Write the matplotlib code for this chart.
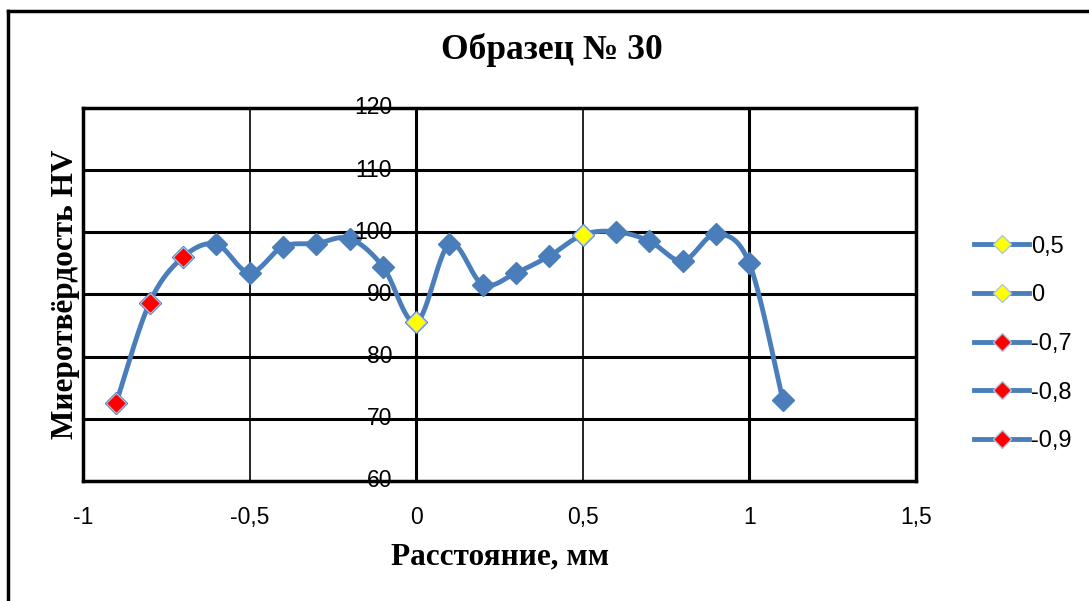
import matplotlib.pyplot as plt
import numpy as np
from matplotlib.lines import Line2D

# distance, mm and microhardness HV
dist = [-0.9, -0.8, -0.7, -0.6, -0.5, -0.4, -0.3, -0.2, -0.1, 0.0,
        0.1, 0.2, 0.3, 0.4, 0.5, 0.6, 0.7, 0.8, 0.9, 1.0, 1.1]
hv = [72.6, 88.7, 96.0, 98.1, 93.5, 97.7, 98.2, 99.0, 94.5, 85.5,
      98.1, 91.6, 93.5, 96.2, 99.6, 100.1, 98.6, 95.4, 99.7, 95.0, 73.1]

# highlighted points: legend name, x, colour
hl_names = ['0,5', '0', '-0,7', '-0,8', '-0,9']
hl_x = [0.5, 0.0, -0.7, -0.8, -0.9]
hl_colors = ['#ffff00', '#ffff00', '#ff0000', '#ff0000', '#ff0000']

blue = '#4a7ebb'

fig = plt.figure(figsize=(10.89, 6.01), dpi=100)
ax = fig.add_axes([0.0762, 0.1997, 0.7649, 0.6206])

# smoothed line (Excel-like bezier through the points), in pixel-ish space
sx, sy = 333.0, 6.217
px = np.array(dist) * sx
py = np.array(hv) * sy
P = np.column_stack([px, py])
P = np.vstack([P[0], P, P[-1]])
xs, ys = [], []
t = np.linspace(0, 1, 30)
for i in range(1, len(P) - 2):
    p0, p1, p2, p3 = P[i - 1], P[i], P[i + 1], P[i + 2]
    c1 = p1 + (p2 - p0) / 6
    c2 = p2 - (p3 - p1) / 6
    b = ((1 - t) ** 3)[:, None] * p1 + (3 * (1 - t) ** 2 * t)[:, None] * c1 \
        + (3 * (1 - t) * t ** 2)[:, None] * c2 + (t ** 3)[:, None] * p2
    xs.extend(b[:, 0] / sx)
    ys.extend(b[:, 1] / sy)
ax.plot(xs, ys, color=blue, lw=3.5, zorder=3, solid_capstyle='round')
ax.plot(dist, hv, ls='none', marker='D', ms=11.5, color=blue, mec=blue, zorder=4)

for n, x0, c in zip(hl_names, hl_x, hl_colors):
    y0 = hv[dist.index(x0)]
    ax.plot([x0], [y0], ls='none', marker='D', ms=10, color=c, mec='#b0c4de', mew=0.8, zorder=5)

ax.set_xlim(-1, 1.5)
ax.set_ylim(60, 120)
ax.set_xticks([-1, -0.5, 0, 0.5, 1, 1.5])
ax.set_xticklabels(['-1', '-0,5', '0', '0,5', '1', '1,5'])
ax.set_yticks(range(60, 121, 10))
ax.tick_params(length=0)
for s in ax.spines.values():
    s.set_linewidth(2.5)
    s.set_color('black')

# horizontal gridlines
for yv in range(70, 120, 10):
    ax.axhline(yv, color='black', lw=2.2, zorder=1)
for xv, lw in zip([-0.5, 0, 0.5, 1], [1.2, 2.2, 1.2, 2.2]):
    ax.axvline(xv, color='black', lw=lw, zorder=1)

# y tick labels placed at the x=0 axis
ax.set_yticklabels([])
for yv in range(60, 121, 10):
    ax.text(-0.072, yv, str(yv), ha='right', va='center', fontsize=16.5,
            family='Liberation Sans', zorder=6)
for lab in ax.get_xticklabels():
    lab.set_fontsize(16.5)
    lab.set_family('Liberation Sans')
ax.tick_params(axis='x', pad=18)

fig.text(0.507, 0.917, 'Образец № 30', ha='center', va='center', fontsize=25.5,
         fontweight='bold', family='Liberation Serif')
fig.text(0.459, 0.073, 'Расстояние, мм', ha='center', va='center', fontsize=22.5,
         fontweight='bold', family='Liberation Serif')
fig.text(0.060, 0.51, 'Миеротвёрдость HV', ha='center', va='center', fontsize=22.5,
         fontweight='bold', family='Liberation Serif', rotation=90)

handles = [Line2D([], [], color=blue, lw=3.5, marker='D', ms=9, mfc=c, mec='#b0c4de')
           for c in hl_colors]
fig.legend(handles, hl_names, loc='center left', bbox_to_anchor=(0.875, 0.4276),
           frameon=False, prop={'family': 'Liberation Sans', 'size': 17},
           handlelength=2.33, labelspacing=1.13, handletextpad=0.1)

# outer frame (left and top edges visible)
fig.add_artist(Line2D([0.0075, 0.0075], [0, 0.982], color='black', lw=2.5,
                      transform=fig.transFigure))
fig.add_artist(Line2D([0.0075, 1.0], [0.982, 0.982], color='black', lw=2.5,
                      transform=fig.transFigure))

fig.savefig('out.png', dpi=100)
